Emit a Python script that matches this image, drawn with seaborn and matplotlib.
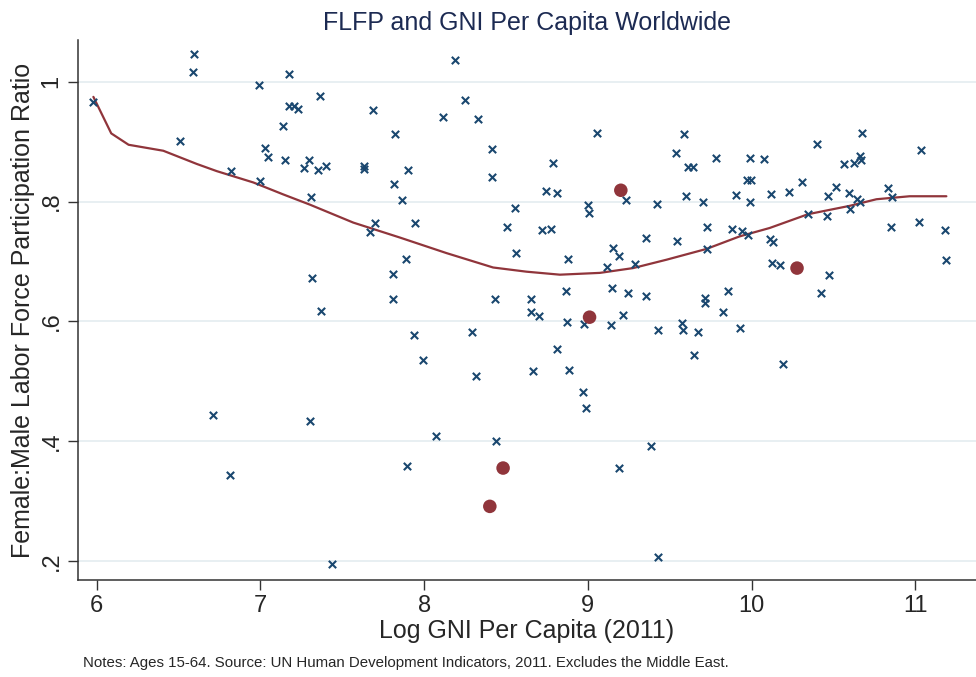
import numpy as np
import pandas as pd
import matplotlib.pyplot as plt
import seaborn as sns

# Log GNI per capita vs female:male LFP ratio
gni_x = [5.98, 6.592, 6.586, 6.510, 6.989, 7.172, 7.176, 7.206, 7.231, 7.139,
         7.027, 7.044, 7.151, 7.267, 7.294, 6.820, 6.997, 7.308, 7.313, 7.369,
         6.712, 7.300, 6.816, 7.435, 8.188, 7.365, 7.687, 8.251, 8.112, 8.326,
         7.821, 8.413, 8.413, 8.788, 8.743, 8.814, 7.353, 7.400, 7.634, 7.634,
         7.902, 7.813, 7.866, 7.697, 7.667, 7.943, 8.505, 8.556, 8.720, 8.775,
         8.558, 7.890, 7.807, 7.807, 8.430, 8.650, 8.650, 8.702, 9.056, 9.585,
         9.539, 9.610, 9.639, 9.781, 9.990, 10.078, 9.974, 9.994, 9.231, 8.999,
         9.005, 9.419, 9.600, 9.704, 9.905, 9.987, 10.121, 9.728, 9.880, 9.940,
         9.976, 10.112, 10.133, 9.355, 9.547, 8.879, 9.152, 9.187, 9.114, 9.288,
         9.726, 10.125, 8.867, 9.148, 9.242, 9.353, 9.714, 9.714, 9.854, 9.824,
         8.873, 8.979, 9.142, 9.215, 9.428, 9.575, 9.579, 9.671, 9.929, 9.650,
         10.192, 8.883, 8.973, 8.989, 9.388, 9.191, 9.431, 7.935, 8.293, 7.990,
         8.317, 8.662, 8.812, 8.071, 8.440, 7.893, 10.674, 10.398, 11.037, 10.562,
         10.627, 10.660, 10.666, 10.231, 10.306, 10.518, 10.469, 10.595, 10.642, 10.660,
         10.601, 10.835, 10.855, 10.344, 10.459, 10.849, 11.020, 11.179, 11.189, 10.176,
         10.471, 10.422]
flfp_y = [0.967, 1.046, 1.017, 0.902, 0.995, 1.013, 0.959, 0.959, 0.955, 0.926,
          0.890, 0.874, 0.869, 0.856, 0.869, 0.852, 0.835, 0.808, 0.673, 0.618,
          0.444, 0.434, 0.344, 0.195, 1.037, 0.977, 0.953, 0.970, 0.942, 0.938,
          0.913, 0.888, 0.841, 0.864, 0.817, 0.815, 0.853, 0.860, 0.860, 0.855,
          0.853, 0.829, 0.802, 0.764, 0.749, 0.764, 0.758, 0.790, 0.752, 0.755,
          0.715, 0.705, 0.679, 0.638, 0.638, 0.638, 0.615, 0.609, 0.915, 0.913,
          0.882, 0.858, 0.858, 0.873, 0.873, 0.872, 0.836, 0.836, 0.803, 0.794,
          0.781, 0.796, 0.810, 0.799, 0.811, 0.799, 0.813, 0.758, 0.755, 0.751,
          0.745, 0.738, 0.732, 0.739, 0.735, 0.704, 0.723, 0.709, 0.691, 0.696,
          0.721, 0.698, 0.650, 0.655, 0.648, 0.642, 0.639, 0.630, 0.650, 0.616,
          0.599, 0.596, 0.594, 0.611, 0.585, 0.597, 0.585, 0.583, 0.589, 0.544,
          0.528, 0.519, 0.482, 0.456, 0.392, 0.355, 0.207, 0.577, 0.582, 0.536,
          0.509, 0.517, 0.554, 0.409, 0.400, 0.359, 0.914, 0.896, 0.886, 0.863,
          0.865, 0.877, 0.870, 0.816, 0.832, 0.825, 0.809, 0.815, 0.805, 0.799,
          0.788, 0.823, 0.807, 0.779, 0.776, 0.758, 0.766, 0.752, 0.702, 0.694,
          0.678, 0.647]

# highlighted countries (red dots)
hl_x = [9.201, 9.010, 8.482, 8.401, 10.277]
hl_y = [0.819, 0.607, 0.355, 0.291, 0.689]

# lowess fit
fit_x = [5.98, 6.089, 6.195, 6.407, 6.611, 6.733, 6.957, 7.14, 7.302, 7.567,
         7.852, 8.137, 8.421, 8.625, 8.829, 9.073, 9.276, 9.48, 9.724, 9.927,
         10.11, 10.344, 10.599, 10.762, 10.965, 11.189]
fit_y = [0.975, 0.914, 0.895, 0.885, 0.863, 0.851, 0.832, 0.812, 0.795, 0.765,
         0.740, 0.714, 0.690, 0.683, 0.678, 0.681, 0.689, 0.703, 0.721, 0.742,
         0.756, 0.779, 0.793, 0.804, 0.809, 0.809]

y_ticks = [0.2, 0.4, 0.6, 0.8, 1.0]
y_ticklabels = [".2", ".4", ".6", ".8", "1"]
x_ticks = [6, 7, 8, 9, 10, 11]

navy = "#1a476f"
maroon = "#90353b"

sns.set_style("white")
plt.rcParams["font.family"] = ["Liberation Sans", "DejaVu Sans"]

df = pd.DataFrame({"gni": gni_x, "flfp": flfp_y})
hl = pd.DataFrame({"gni": hl_x, "flfp": hl_y})
fit = pd.DataFrame({"gni": fit_x, "flfp": fit_y})

fig = plt.figure(figsize=(9.76, 6.77), dpi=100)
ax = fig.add_axes([78 / 976, 97 / 677, 1 - 78 / 976, 540 / 677])

ax.set_xlim(5.886, 11.37)
ax.set_ylim(0.168, 1.07)
for t in y_ticks:
    ax.axhline(t, color="#e6eef1", lw=1.3, zorder=0)

sns.scatterplot(data=df, x="gni", y="flfp", ax=ax, marker="x", color=navy,
                s=28, linewidth=1.5, zorder=3)
sns.scatterplot(data=hl, x="gni", y="flfp", ax=ax, marker="o", color=maroon,
                s=95, edgecolor="none", zorder=4)
sns.lineplot(data=fit, x="gni", y="flfp", ax=ax, sort=False, estimator=None,
             color=maroon, lw=1.6, zorder=2)

ax.set_xticks(x_ticks)
ax.set_xticklabels([str(t) for t in x_ticks], fontsize=17)
ax.set_yticks(y_ticks)
ax.set_yticklabels(y_ticklabels, fontsize=17, rotation=90, va="center")
ax.tick_params(axis="both", direction="out", length=7, width=1, color="#333333",
               left=True, bottom=True, pad=4)

for side in ["top", "right"]:
    ax.spines[side].set_visible(False)
for side in ["left", "bottom"]:
    ax.spines[side].set_color("#333333")
    ax.spines[side].set_linewidth(1.1)

ax.set_xlabel("Log GNI Per Capita (2011)", fontsize=18, labelpad=1)
ax.set_ylabel("Female:Male Labor Force Participation Ratio", fontsize=18, labelpad=4)
ax.set_title("FLFP and GNI Per Capita Worldwide", fontsize=18, color="#1c2a52", pad=7)

fig.text(83 / 976, 1 - 663 / 677,
         "Notes: Ages 15-64. Source: UN Human Development Indicators, 2011. Excludes the Middle East.",
         fontsize=10.8, va="center", ha="left")

fig.savefig("out.png", dpi=100)
